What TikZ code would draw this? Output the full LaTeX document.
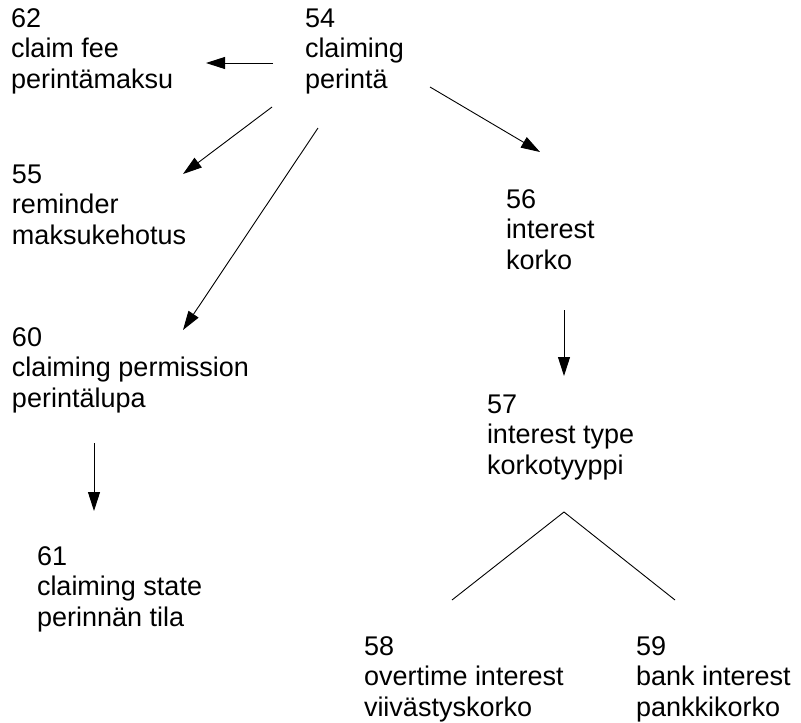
\documentclass[tikz,border=0pt]{standalone}
\usepackage{fontspec}
\setmainfont{Liberation Sans}
\usetikzlibrary{arrows.meta,calc}
\tikzset{
  entity/.style={anchor=base west,inner sep=0pt,outer sep=0pt,
    font=\fontsize{27}{30.5}\selectfont},
  link/.style={line width=0.9pt,-{Triangle[length=19pt,width=12pt]}},
  branch/.style={line width=0.9pt},
}
\newcommand{\entitytext}[3]{\begin{tabular}[t]{@{}l@{}}#1\\#2\\#3\end{tabular}}
\begin{document}
\begin{tikzpicture}[x=1pt,y=-1pt]
  \useasboundingbox (0,0) rectangle (801,723);
  % entities: number, English name, Finnish name
  \node[entity] (n62) at (11,27)  {\entitytext{62}{claim fee}{perintämaksu}};
  \node[entity] (n54) at (305,27) {\entitytext{54}{claiming}{perintä}};
  \node[entity] (n55) at (12,183) {\entitytext{55}{reminder}{maksukehotus}};
  \node[entity] (n56) at (506,208) {\entitytext{56}{interest}{korko}};
  \node[entity] (n60) at (12,346) {\entitytext{60}{claiming permission}{perintälupa}};
  \node[entity] (n57) at (487,413) {\entitytext{57}{interest type}{korkotyyppi}};
  \node[entity] (n61) at (37,565) {\entitytext{61}{claiming state}{perinnän tila}};
  \node[entity] (n58) at (364,655) {\entitytext{58}{overtime interest}{viivästyskorko}};
  \node[entity] (n59) at (636,655) {\entitytext{59}{bank interest}{pankkikorko}};

  % relationships
  \draw[link] ($(n54.base west)+(-32,36)$) -- ($(n62.base west)+(195,36)$);
  \draw[link] ($(n54.base west)+(-33,80)$) -- ($(n55.base west)+(171,-9)$);
  \draw[link] ($(n54.base west)+(13,101)$) -- ($(n60.base west)+(171,-16)$);
  \draw[link] ($(n54.base west)+(125,60)$) -- ($(n56.base west)+(34,-56)$);
  \draw[link] ($(n56.base west)+(58,102)$) -- ($(n57.base west)+(77,-37)$);
  \draw[link] ($(n60.base west)+(82,97)$) -- ($(n61.base west)+(57,-54)$);

  % subtypes of interest type
  \coordinate (fork) at ($(n57.base west)+(77,99)$);
  \draw[branch] ($(n58.base west)+(88,-55)$) -- (fork) -- ($(n59.base west)+(39,-55)$);
\end{tikzpicture}
\end{document}
